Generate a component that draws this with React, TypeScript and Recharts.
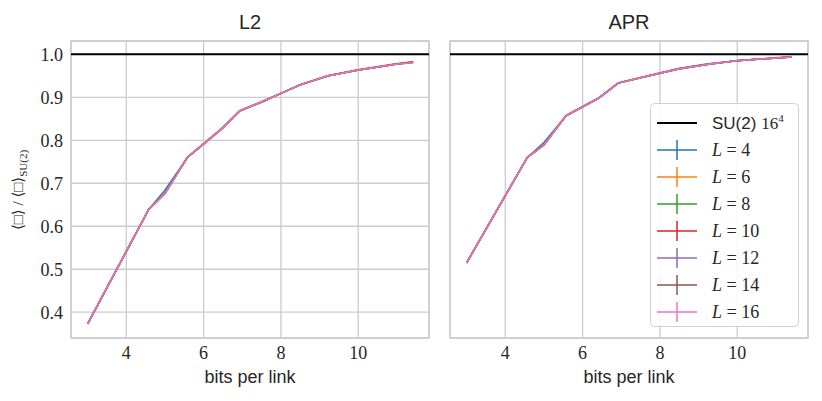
import React from 'react';
import {
  LineChart, Line, XAxis, YAxis, CartesianGrid, ReferenceLine, ReferenceArea, Legend,
} from 'recharts';

// lattice sizes and matplotlib tab10 colours
const sizes = [4, 6, 8, 10, 12, 14, 16];
const colors = ['#1f77b4', '#ff7f0e', '#2ca02c', '#d62728', '#9467bd', '#8c564b', '#e377c2'];

const xTicks = [4, 6, 8, 10];
const yTicks = [0.4, 0.5, 0.6, 0.7, 0.8, 0.9, 1.0];
const xDomain = [2.57, 11.83];
const yDomain = [0.34, 1.031];

// L2 panel
const l2Bits = [3.0, 4.58, 5.0, 5.58, 6.46, 6.93, 7.58, 8.0, 8.5, 9.23, 9.97, 10.96, 11.42];
const l2L4 = [0.373, 0.639, 0.684, 0.760, 0.826, 0.868, 0.892, 0.909, 0.929, 0.950, 0.963, 0.977, 0.983];
const l2L6 = [0.373, 0.639, 0.677, 0.761, 0.827, 0.869, 0.893, 0.909, 0.930, 0.951, 0.964, 0.978, 0.983];
const l2L8 = [0.373, 0.639, 0.676, 0.760, 0.826, 0.868, 0.892, 0.909, 0.929, 0.950, 0.963, 0.977, 0.982];
const l2L10 = [0.373, 0.639, 0.676, 0.760, 0.826, 0.868, 0.892, 0.909, 0.929, 0.950, 0.963, 0.977, 0.982];
const l2L12 = [0.373, 0.639, 0.676, 0.760, 0.826, 0.868, 0.892, 0.909, 0.929, 0.950, 0.963, 0.977, 0.981];
const l2L14 = [0.373, 0.639, 0.676, 0.760, 0.826, 0.868, 0.892, 0.909, 0.929, 0.950, 0.963, 0.977, 0.981];
const l2L16 = [0.373, 0.639, 0.676, 0.760, 0.826, 0.868, 0.892, 0.909, 0.929, 0.950, 0.963, 0.977, 0.981];

// APR panel
const aprBits = [3.0, 4.57, 5.0, 5.57, 6.42, 6.92, 7.58, 8.0, 8.48, 9.25, 9.98, 10.93, 11.4];
const aprL4 = [0.515, 0.760, 0.795, 0.857, 0.898, 0.933, 0.947, 0.956, 0.967, 0.978, 0.985, 0.991, 0.994];
const aprL6 = [0.515, 0.761, 0.790, 0.858, 0.899, 0.934, 0.948, 0.957, 0.967, 0.977, 0.985, 0.992, 0.995];
const aprL8 = [0.515, 0.760, 0.789, 0.857, 0.898, 0.933, 0.947, 0.956, 0.966, 0.977, 0.985, 0.991, 0.994];
const aprL10 = [0.515, 0.760, 0.789, 0.857, 0.898, 0.933, 0.947, 0.956, 0.966, 0.977, 0.985, 0.991, 0.994];
const aprL12 = [0.515, 0.760, 0.789, 0.857, 0.898, 0.933, 0.947, 0.956, 0.966, 0.977, 0.985, 0.991, 0.994];
const aprL14 = [0.515, 0.760, 0.789, 0.857, 0.898, 0.933, 0.947, 0.956, 0.966, 0.977, 0.985, 0.991, 0.994];
const aprL16 = [0.515, 0.760, 0.789, 0.857, 0.898, 0.933, 0.947, 0.956, 0.966, 0.977, 0.985, 0.991, 0.994];

const toPoints = (xs: number[], ys: number[]) => xs.map((x, i) => ({ x, y: ys[i] }));

const l2Series = [l2L4, l2L6, l2L8, l2L10, l2L12, l2L14, l2L16].map((ys) => toPoints(l2Bits, ys));
const aprSeries = [aprL4, aprL6, aprL8, aprL10, aprL12, aprL14, aprL16].map((ys) => toPoints(aprBits, ys));

const SERIF = '"Liberation Serif", "DejaVu Serif", serif';
const SANS = '"Liberation Sans", Arial, sans-serif';
const GRID = '#cccccc';
const TEXT = '#262626';

const tickStyle = { fontFamily: SERIF, fontSize: 18, fill: TEXT };

const YLabel = () => (
  <text
    transform="translate(23, 190) rotate(-90)"
    textAnchor="middle"
    fontFamily={SERIF}
    fontSize={15}
    fill={TEXT}
  >
    ⟨□⟩ / ⟨□⟩<tspan fontSize={11} dy={4}>SU(2)</tspan>
  </text>
);

const LegendBox = () => (
  <svg width={150} height={226} style={{ display: 'block', overflow: 'visible' }}>
    <rect x={0.5} y={0.5} width={148} height={223} rx={4} fill="rgba(255,255,255,0.85)" stroke="#d0d0d0" />
    <line x1={7} x2={47} y1={20} y2={20} stroke="#000" strokeWidth={2} />
    <text x={62} y={26} fontSize={17} fill={TEXT}>
      <tspan fontFamily={SANS}>SU(2) </tspan>
      <tspan fontFamily={SERIF}>16</tspan>
      <tspan fontFamily={SERIF} fontSize={11} dy={-7}>4</tspan>
    </text>
    {sizes.map((L, i) => {
      const cy = 47 + i * 27;
      return (
        <g key={L}>
          <line x1={7} x2={47} y1={cy} y2={cy} stroke={colors[i]} strokeWidth={1.5} />
          <line x1={27} x2={27} y1={cy - 10} y2={cy + 10} stroke={colors[i]} strokeWidth={1.5} />
          <text x={62} y={cy + 6} fontFamily={SERIF} fontSize={18} fill={TEXT}>
            <tspan fontStyle="italic">L</tspan> = {L}
          </text>
        </g>
      );
    })}
  </svg>
);

type PanelProps = {
  series: { x: number; y: number }[][];
  showY: boolean;
  width: number;
  marginRight: number;
  yAxisWidth: number;
  legend?: boolean;
};

const Panel: React.FC<PanelProps> = ({ series, showY, width, marginRight, yAxisWidth, legend }) => (
  <LineChart width={width} height={401} margin={{ top: 41, right: marginRight, bottom: 0, left: 0 }}>
    <CartesianGrid stroke={GRID} strokeWidth={1.3} />
    <XAxis
      type="number"
      dataKey="x"
      domain={xDomain}
      ticks={xTicks}
      allowDataOverflow
      axisLine={false}
      tickLine={false}
      tickSize={0}
      tickMargin={8}
      tick={tickStyle}
      height={63}
      label={{ value: 'bits per link', position: 'insideBottom', offset: 18, style: { fontFamily: SANS, fontSize: 18, fill: TEXT } }}
    />
    <YAxis
      type="number"
      domain={yDomain}
      ticks={yTicks}
      allowDataOverflow
      width={yAxisWidth}
      axisLine={false}
      tickLine={false}
      tickSize={0}
      tickMargin={8}
      tick={showY ? tickStyle : false}
      tickFormatter={(v: number) => v.toFixed(1)}
      label={showY ? <YLabel /> : undefined}
    />
    <ReferenceArea x1={xDomain[0]} x2={xDomain[1]} y1={yDomain[0]} y2={yDomain[1]} fill="none" stroke={GRID} strokeWidth={1.5} />
    {series.map((pts, i) => (
      <Line
        key={sizes[i]}
        data={pts}
        dataKey="y"
        type="linear"
        stroke={colors[i]}
        strokeWidth={1.5}
        dot={false}
        isAnimationActive={false}
      />
    ))}
    <ReferenceLine y={1.0} stroke="#000" strokeWidth={2} />
    {legend && (
      <Legend
        layout="vertical"
        align="center"
        verticalAlign="middle"
        content={() => <LegendBox />}
        wrapperStyle={{ left: 210, top: 103, width: 150, height: 226 }}
      />
    )}
  </LineChart>
);

const titleStyle: React.CSSProperties = {
  position: 'absolute',
  top: 8,
  height: 28,
  lineHeight: '28px',
  textAlign: 'center',
  fontFamily: SANS,
  fontSize: 20,
  color: TEXT,
};

export default function App() {
  return (
    <div style={{ position: 'absolute', left: 0, top: 0, width: 822, height: 401, background: '#fff' }}>
      <div style={{ ...titleStyle, left: 71, width: 358 }}>L2</div>
      <div style={{ ...titleStyle, left: 450, width: 358 }}>APR</div>
      <div style={{ position: 'absolute', left: 0, top: 0 }}>
        <Panel series={l2Series} showY width={440} marginRight={11} yAxisWidth={71} />
      </div>
      <div style={{ position: 'absolute', left: 440, top: 0 }}>
        <Panel series={aprSeries} showY={false} width={382} marginRight={14} yAxisWidth={10} legend />
      </div>
    </div>
  );
}
